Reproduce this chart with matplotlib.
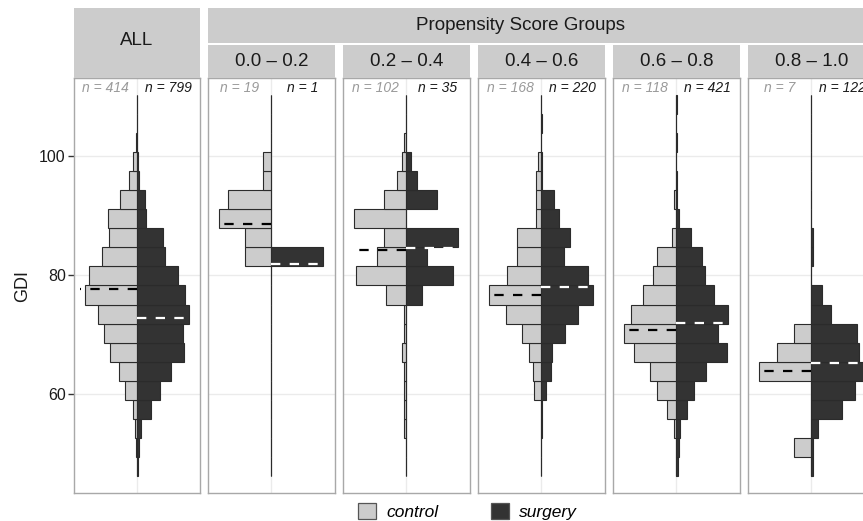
import numpy as np
import matplotlib
matplotlib.use('Agg')
import matplotlib.pyplot as plt
from matplotlib.patches import Patch

plt.rcParams['font.family'] = ['Liberation Sans', 'DejaVu Sans']

# ---- data (GDI histograms, 20 bins, counts from bottom bin to top bin) ----
bin_edges = [46.2, 49.4, 52.6, 55.8, 59.0, 62.2, 65.4, 68.6, 71.8, 75.0, 78.2,
             81.4, 84.6, 87.8, 91.0, 94.2, 97.4, 100.6, 103.8, 107.0, 110.2]

groups = ['0.0 – 0.2', '0.2 – 0.4', '0.4 – 0.6', '0.6 – 0.8', '0.8 – 1.0']

control_counts = [
    [0, 0, 0, 0, 0, 0, 0, 0, 0, 0, 0, 3, 3, 6, 5, 1, 1, 0, 0, 0],
    [0, 0, 1, 1, 1, 1, 2, 1, 1, 9, 22, 13, 10, 23, 10, 4, 2, 1, 0, 0],
    [0, 0, 0, 0, 5, 6, 9, 14, 25, 37, 24, 17, 17, 4, 4, 4, 2, 0, 0, 0],
    [0, 0, 1, 4, 8, 11, 18, 22, 19, 14, 10, 8, 2, 0, 1, 0, 0, 0, 0, 0],
    [0, 1, 0, 0, 0, 3, 2, 1, 0, 0, 0, 0, 0, 0, 0, 0, 0, 0, 0, 0],
]
surgery_counts = [
    [0, 0, 0, 0, 0, 0, 0, 0, 0, 0, 0, 1, 0, 0, 0, 0, 0, 0, 0, 0],
    [0, 0, 0, 0, 0, 0, 0, 0, 0, 3, 9, 4, 10, 0, 6, 2, 1, 0, 0, 0],
    [0, 0, 1, 1, 4, 8, 9, 19, 30, 42, 38, 18, 23, 14, 10, 1, 1, 0, 1, 0],
    [2, 3, 5, 14, 23, 39, 66, 54, 68, 49, 37, 34, 19, 4, 1, 1, 0, 1, 0, 1],
    [1, 1, 3, 14, 20, 24, 22, 21, 9, 5, 0, 1, 1, 0, 0, 0, 0, 0, 0, 0],
]

all_control_mean, all_surgery_mean = 77.6, 72.8
control_means = [88.6, 84.15, 76.55, 70.7, 63.9]
surgery_means = [81.8, 84.55, 78.0, 71.85, 65.2]

# ---- style ----
W, H = 863, 521
CTRL = '#CCCCCC'
SURG = '#333333'
EDGE = '#2B2B2B'
STRIP = '#CCCCCC'
BORDER = '#A8A8A8'
GRID = '#EBEBEB'

fig = plt.figure(figsize=(W / 100, H / 100), dpi=100, facecolor='white')


def px_axes(x0, y0, x1, y1):
    return fig.add_axes([x0 / W, 1 - y1 / H, (x1 - x0) / W, (y1 - y0) / H])


def strip(x0, y0, x1, y1, label, ty=None):
    ax = px_axes(x0, y0, x1, y1)
    ax.set_facecolor(STRIP)
    ax.set_xticks([]); ax.set_yticks([])
    for s in ax.spines.values():
        s.set_visible(False)
    ax.text(0.5, 0.5 if ty is None else ty, label, transform=ax.transAxes,
            ha='center', va='center', fontsize=13.5, color='#1A1A1A')
    return ax


def panel(ax, ctrl, surg, m_ctrl, m_surg, show_y=False):
    ctrl = np.asarray(ctrl, float)
    surg = np.asarray(surg, float)
    edges = np.asarray(bin_edges)
    centers = (edges[:-1] + edges[1:]) / 2
    heights = np.diff(edges)
    ax.barh(centers, -ctrl / ctrl.max(), height=heights, color=CTRL,
            edgecolor=EDGE, linewidth=0.8, zorder=2)
    ax.barh(centers, surg / surg.max(), height=heights, color=SURG,
            edgecolor=EDGE, linewidth=0.8, zorder=2)
    ax.plot([0, -1.09], [m_ctrl, m_ctrl], color='black', lw=1.6,
            dashes=(4.2, 4.2), zorder=3)
    ax.plot([0, 1.09], [m_surg, m_surg], color='white', lw=1.6,
            dashes=(4.2, 4.2), zorder=3)
    ax.text(-0.6, 111.5, f'n = {int(ctrl.sum())}', ha='center', va='center',
            style='italic', fontsize=10, color='#9A9A9A')
    ax.text(0.6, 111.5, f'n = {int(surg.sum())}', ha='center', va='center',
            style='italic', fontsize=10, color='#1A1A1A')
    ax.set_xlim(-1.215, 1.215)
    ax.set_ylim(43.3, 113.1)
    ax.set_xticks([0])
    ax.set_yticks([60, 80, 100])
    ax.grid(True, color=GRID, lw=1.0)
    ax.set_axisbelow(True)
    for s in ax.spines.values():
        s.set_color(BORDER)
        s.set_linewidth(1.0)
    ax.tick_params(axis='x', length=0, labelbottom=False)
    if show_y:
        ax.tick_params(axis='y', length=4, width=1, color='#333333',
                       labelsize=11.5, labelcolor='#1A1A1A', pad=2)
    else:
        ax.tick_params(axis='y', length=0, labelleft=False)


# ---- ALL panel ----
TOP, BOT = 78, 493
ax_all = px_axes(74, TOP, 200, BOT)
all_ctrl = np.sum(control_counts, axis=0)
all_surg = np.sum(surgery_counts, axis=0)
panel(ax_all, all_ctrl, all_surg, all_control_mean, all_surgery_mean, show_y=True)
strip(74, 8.3, 200, TOP, 'ALL', ty=0.54)

# ---- propensity score group panels ----
x_start, step, width = 208, 135, 126.5
for i, g in enumerate(groups):
    x0 = x_start + i * step
    ax = px_axes(x0, TOP, x0 + width, BOT)
    panel(ax, control_counts[i], surgery_counts[i],
          control_means[i], surgery_means[i])
    strip(x0, 45, x0 + width, TOP, g)

top = px_axes(208, 8.3, x_start + 4 * step + width, 42.7)
top.set_facecolor(STRIP)
top.set_xticks([]); top.set_yticks([])
for s in top.spines.values():
    s.set_visible(False)
fig.text(520 / W, 1 - 25.5 / H, 'Propensity Score Groups', ha='center',
         va='center', fontsize=13.5, color='#1A1A1A')

fig.text(23 / W, 1 - 286 / H, 'GDI', rotation=90, ha='center', va='center',
         fontsize=13, color='#1A1A1A')

handles = [Patch(facecolor=CTRL, edgecolor='#555555', linewidth=0.9),
           Patch(facecolor=SURG, edgecolor='#555555', linewidth=0.9)]
leg = fig.legend(handles, ['control', 'surgery'], loc='center', ncol=2,
                 bbox_to_anchor=(467.5 / W, 1 - 511.5 / H), frameon=False,
                 prop={'style': 'italic', 'size': 12.5},
                 handlelength=1.05, handleheight=1.05, handletextpad=0.6,
                 columnspacing=3.0, borderpad=0)

fig.savefig('out.png', dpi=100, facecolor='white')
